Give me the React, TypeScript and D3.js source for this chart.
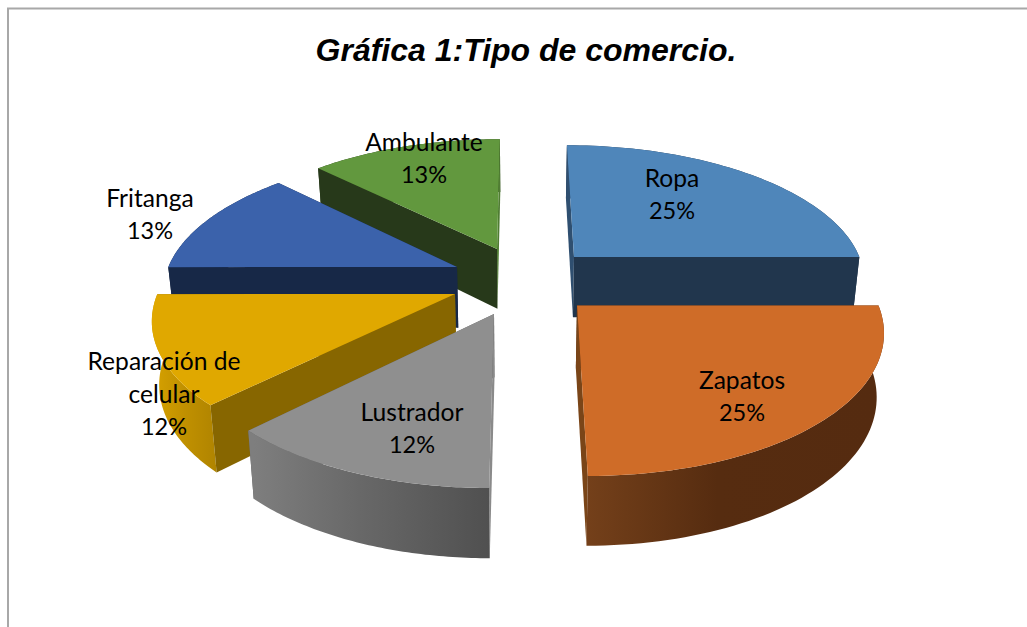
import React from "react";
import * as d3 from "d3";

// ---- data ----
const categories = ["Ropa", "Zapatos", "Lustrador", "Reparación de celular", "Fritanga", "Ambulante"];
const shares = [25, 25, 12.49, 12.49, 12.51, 12.51];
const titleText = "Gráfica 1:Tipo de comercio.";

// ---- styling / layout ----
const topColors = ["#4F86BA", "#CF6C28", "#8F8F8F", "#E0A800", "#3B62AB", "#62983E"];
const startWallColors = ["#2F4F70", "#552B10", "#8A8A8A", "#876600", "#172847", "#27391A"];
const endWallColors = ["#21364D", "#7A4518", "#5F5F5F", "#876600", "#172847", "#4F7D32"];
const outerStops: string[][] = [
  ["#21364D", "#21364D", "#21364D"],
  ["#74401A", "#562C10", "#552B10"],
  ["#7E7E7E", "#686868", "#505050"],
  ["#D29E00", "#C09000", "#B08400"],
  ["#172847", "#172847", "#172847"],
  ["#27391A", "#27391A", "#27391A"],
];
const faceOrder = [
  ["outer", "start", "end"],
  ["start", "end", "outer"],
  ["end", "start", "outer"],
  ["end", "outer", "start"],
  ["end", "outer", "start"],
  ["outer", "end", "start"],
];
const apexPixels: [number, number][] = [
  [574, 257], [577, 305.5], [494, 314], [455, 294], [457, 267], [497, 249],
];
const labelLines = [["Ropa"], ["Zapatos"], ["Lustrador"], ["Reparación de", "celular"], ["Fritanga"], ["Ambulante"]];
const labelPositions: [number, number][] = [
  [672, 177], [742, 379], [412, 411], [164, 360], [150, 197], [424, 141],
];
const drawOrder = [5, 0, 4, 3, 2, 1];
const LINE_H = 33;

// perspective model of the tilted pie
const CX = 519.5, CY = 280, RX = 293, RY = 135.5, K = 0.154, ZS = 0.98;
const scaleOf = (v: number) => 1 / (1 - K * v);
const depthOf = (v: number) => 61.5 + 7 * v;
const project = (u: number, v: number, bottom: boolean): [number, number] => {
  const s = scaleOf(v);
  const x = CX + RX * u * s * (bottom ? ZS : 1);
  const y = CY + RY * v * s + (bottom ? depthOf(v) : 0);
  return [x, y];
};
const unproject = ([x, y]: [number, number]): [number, number] => {
  const w = (y - CY) / RY;
  const v = w / (1 + K * w);
  return [(x - CX) / (RX * scaleOf(v)), v];
};

const line = d3.line<[number, number]>().curve(d3.curveLinear);
const pie = d3.pie<number>().sort(null).value((d) => d);
const arcs = pie(shares);

export default function App() {
  const slices = arcs.map((a, i) => {
    const [u0, v0] = unproject(apexPixels[i]);
    const rim = d3.range(0, 61).map((t) => {
      const ang = a.startAngle + ((a.endAngle - a.startAngle) * t) / 60;
      return [u0 + Math.sin(ang), v0 - Math.cos(ang)] as [number, number];
    });
    const topRim = rim.map(([u, v]) => project(u, v, false));
    const botRim = rim.map(([u, v]) => project(u, v, true));
    const apexT = project(u0, v0, false);
    const apexB = project(u0, v0, true);
    return {
      i,
      top: line([apexT, ...topRim])! + "Z",
      outer: line([...topRim, ...[...botRim].reverse()])! + "Z",
      start: line([apexT, topRim[0], botRim[0], apexB])! + "Z",
      end: line([apexT, topRim[60], botRim[60], apexB])! + "Z",
      xs: d3.extent(botRim, (p) => p[0]) as [number, number],
    };
  });

  return (
    <svg
      width={1027}
      height={627}
      viewBox="0 0 1027 627"
      style={{ position: "absolute", left: 0, top: 0, background: "#fff" }}
    >
      <defs>
        {slices.map((s) => (
          <linearGradient
            key={s.i}
            id={`outer${s.i}`}
            gradientUnits="userSpaceOnUse"
            x1={s.xs[0]}
            x2={s.xs[1]}
            y1={0}
            y2={0}
          >
            <stop offset="0" stopColor={outerStops[s.i][0]} />
            <stop offset="0.45" stopColor={outerStops[s.i][1]} />
            <stop offset="1" stopColor={outerStops[s.i][2]} />
          </linearGradient>
        ))}
      </defs>
      <path d="M1027,8.5H8V627" fill="none" stroke="#A8A8A8" strokeWidth={2} />
      <text
        x={526}
        y={60.5}
        textAnchor="middle"
        fontFamily="'Liberation Sans', Arial, sans-serif"
        fontWeight="bold"
        fontStyle="italic"
        fontSize={32}
        fill="#000"
      >
        {titleText}
      </text>
      {drawOrder.map((idx) => {
        const s = slices[idx];
        const fills: Record<string, string> = {
          outer: `url(#outer${idx})`,
          start: startWallColors[idx],
          end: endWallColors[idx],
        };
        return (
          <g key={idx}>
            {faceOrder[idx].map((f) => (
              <path key={f} d={(s as any)[f]} fill={fills[f]} />
            ))}
            <path d={s.top} fill={topColors[idx]} />
          </g>
        );
      })}
      {categories.map((c, i) => {
        const [x, y] = labelPositions[i];
        const names = labelLines[i];
        return (
          <text key={c} textAnchor="middle" fontFamily="Lato, Carlito, Calibri, sans-serif" fill="#000">
            {names.map((r, k) => (
              <tspan key={k} x={x} y={y + k * LINE_H} dominantBaseline="central" fontSize={24.6}>
                {r}
              </tspan>
            ))}
            <tspan x={x} y={y + names.length * LINE_H} dominantBaseline="central" fontSize={23.5}>
              {`${Math.round(shares[i])}%`}
            </tspan>
          </text>
        );
      })}
    </svg>
  );
}
